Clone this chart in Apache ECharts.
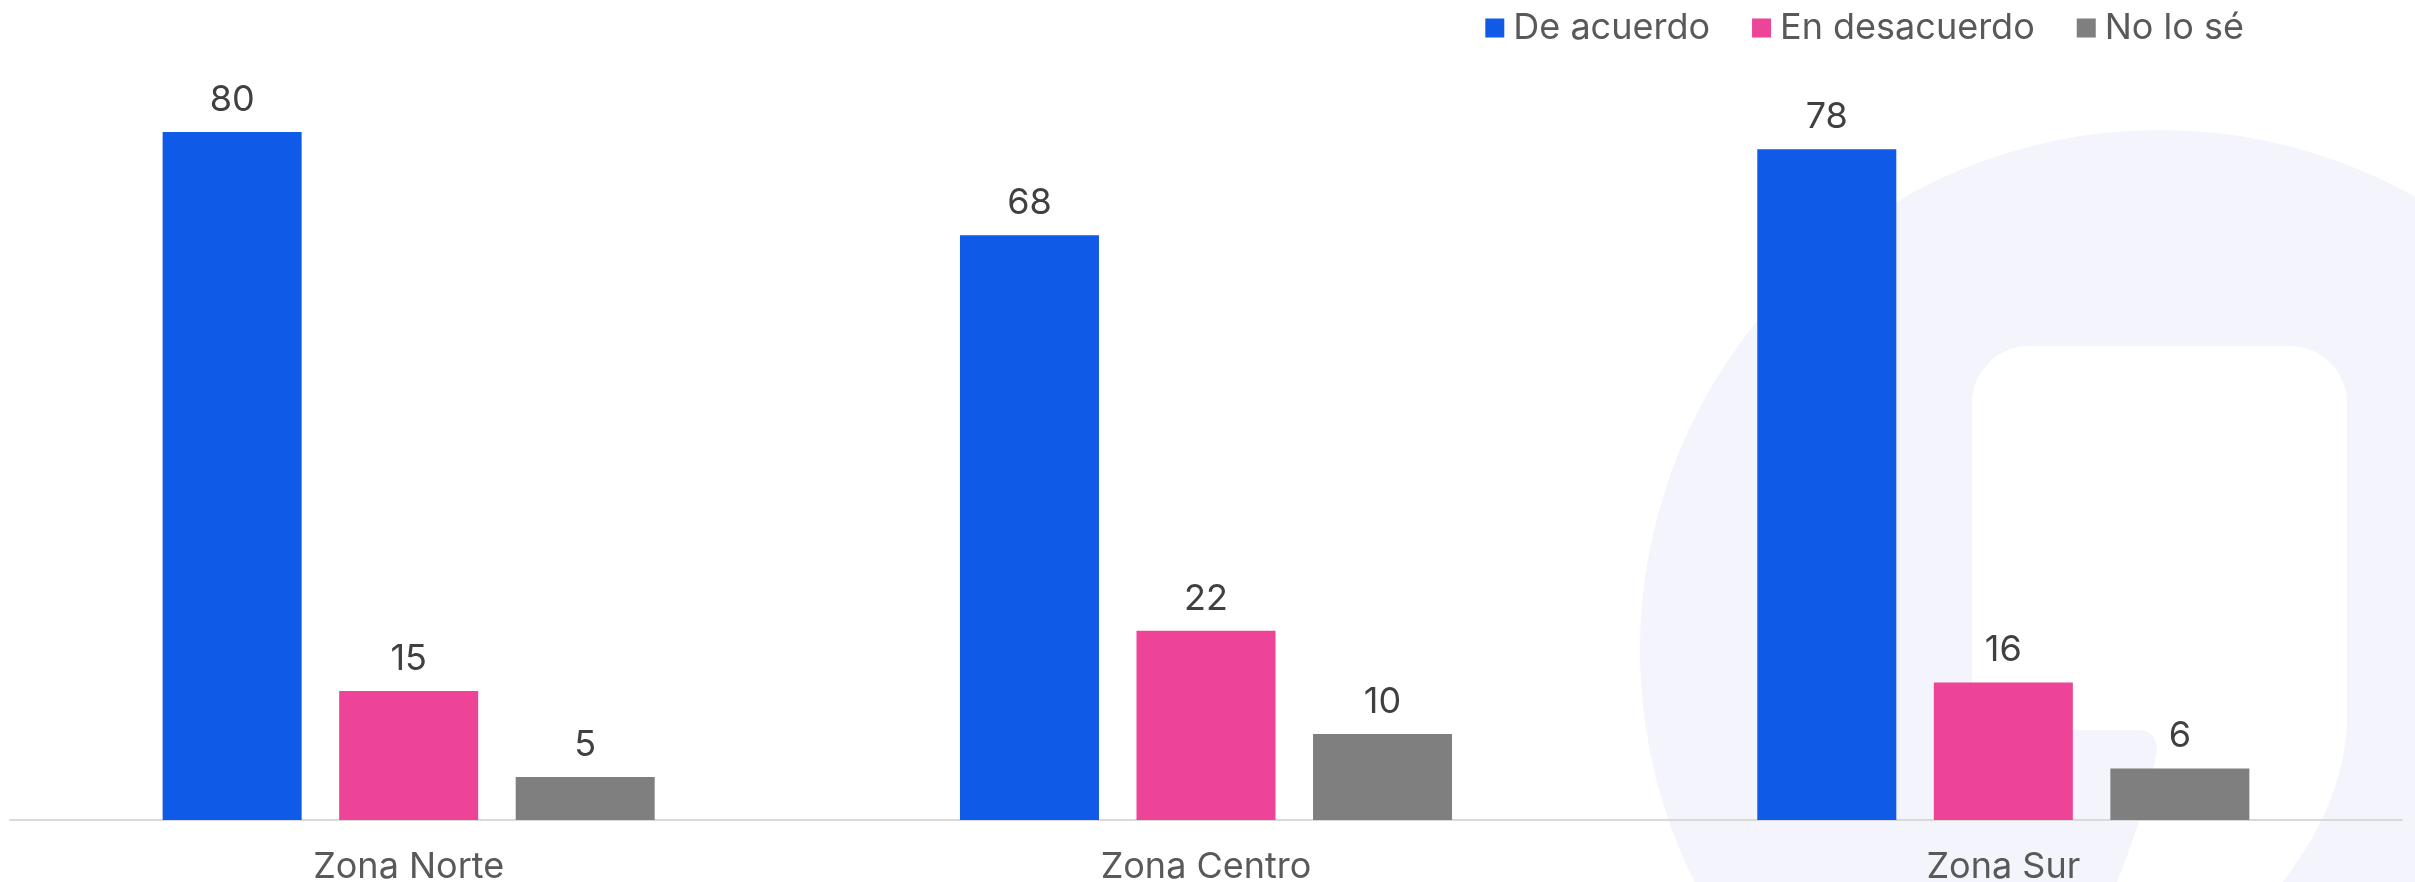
<!DOCTYPE html>
<html>
<head>
<meta charset="utf-8">
<script src="https://cdn.jsdelivr.net/npm/echarts@6/dist/echarts.min.js"></script>
<style>
  html, body { margin: 0; padding: 0; background: #fff; }
  #chart { width: 2415px; height: 882px; }
</style>
</head>
<body>
<div id="chart"></div>
<script>
const zonas = ['Zona Norte', 'Zona Centro', 'Zona Sur']
const deAcuerdo = [80, 68, 78]
const enDesacuerdo = [15, 22, 16]
const noLoSe = [5, 10, 6]

const FONT = 'Inter'
const chart = echarts.init(document.getElementById('chart'))

// curva cuadrática muestreada como lista de puntos (solo para el fondo)
function quad(p0, c, p1, n) {
  const pts = []
  for (let i = 1; i <= n; i++) {
    const t = i / n
    const a = (1 - t) * (1 - t), b = 2 * (1 - t) * t, d = t * t
    pts.push([a * p0[0] + b * c[0] + d * p1[0], a * p0[1] + b * c[1] + d * p1[1]])
  }
  return pts
}

// parte inferior de la forma blanca de la marca de agua
const formaBaja = [[2347, 720]]
  .concat(quad([2347, 720], [2345, 800], [2283, 882], 20))
  .concat([[2270, 900], [2110, 900]])
  .concat(quad([2110, 900], [2150, 800], [2157, 750], 20))
  .concat(quad([2157, 750], [2157, 730], [2137, 730], 8))

const fondo = [
  {
    type: 'circle',
    shape: { cx: 2160, cy: 650, r: 520 },
    style: { fill: '#f3f4fc' },
    z: -10
  },
  {
    type: 'rect',
    shape: { x: 1972, y: 346, width: 375, height: 384, r: [57, 57, 0, 0] },
    style: { fill: '#ffffff' },
    z: -9
  },
  {
    type: 'polygon',
    shape: { points: formaBaja.concat([[2137, 720]]) },
    style: { fill: '#ffffff' },
    z: -9
  }
]

const etiqueta = { show: true, position: 'top', distance: 14, fontSize: 36, color: '#404040', fontFamily: FONT }

chart.setOption({
  backgroundColor: '#ffffff',
  animation: false,
  graphic: fondo,
  textStyle: { fontFamily: FONT },
  legend: {
    top: 5,
    right: 166,
    itemWidth: 19,
    itemHeight: 19,
    itemGap: 42,
    icon: 'rect',
    textStyle: { fontSize: 36, color: '#595959', fontFamily: FONT, padding: [0, 0, 0, 4] },
    data: ['De acuerdo', 'En desacuerdo', 'No lo sé']
  },
  grid: { left: 10, right: 13, top: 132, bottom: 62, containLabel: false, outerBoundsMode: 'none' },
  xAxis: {
    type: 'category',
    data: zonas,
    axisTick: { show: false },
    axisLine: { lineStyle: { color: '#d9d9d9', width: 2 } },
    axisLabel: { fontSize: 36, color: '#595959', margin: 29, fontFamily: FONT }
  },
  yAxis: {
    type: 'value',
    min: 0,
    max: 80,
    show: false,
    splitLine: { show: false }
  },
  series: [
    {
      name: 'De acuerdo',
      type: 'bar',
      data: deAcuerdo,
      barWidth: 139,
      barGap: '27%',
      itemStyle: { color: '#0f5ae6' },
      label: etiqueta
    },
    {
      name: 'En desacuerdo',
      type: 'bar',
      data: enDesacuerdo,
      barWidth: 139,
      barGap: '27%',
      itemStyle: { color: '#ed4498' },
      label: etiqueta
    },
    {
      name: 'No lo sé',
      type: 'bar',
      data: noLoSe,
      barWidth: 139,
      barGap: '27%',
      itemStyle: { color: '#7f7f7f' },
      label: etiqueta
    }
  ]
})
</script>
</body>
</html>
